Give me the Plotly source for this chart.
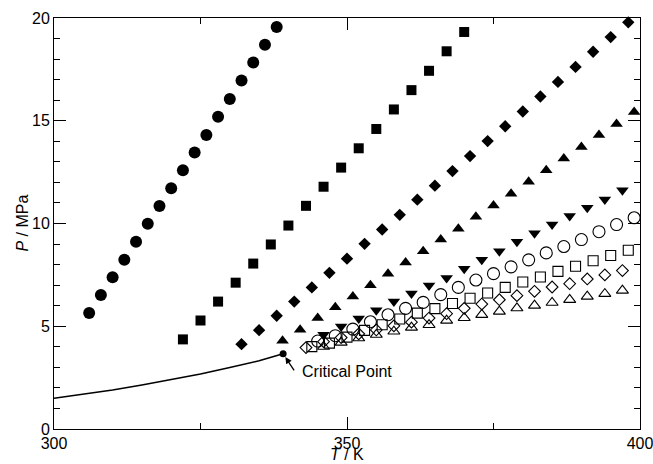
import plotly.graph_objects as go

# ---------------- data ----------------
T_fc = [306, 308, 310, 312, 314, 316, 318, 320, 322, 324, 326, 328, 330, 332, 334, 336, 338]
P_fc = [5.65, 6.52, 7.38, 8.24, 9.11, 9.99, 10.85, 11.71, 12.59, 13.45, 14.31, 15.19, 16.06, 16.96, 17.84, 18.70, 19.56]

T_fs = [322, 325, 328, 331, 334, 337, 340, 343, 346, 349, 352, 355, 358, 361, 364, 367, 370]
P_fs = [4.36, 5.28, 6.20, 7.12, 8.05, 8.98, 9.90, 10.86, 11.79, 12.72, 13.66, 14.60, 15.55, 16.49, 17.43, 18.38, 19.32]

T_fd = [332, 335, 338, 341, 344, 347, 350, 353, 356, 359, 362, 365, 368, 371, 374, 377, 380, 383, 386, 389, 392, 395, 398]
P_fd = [4.13, 4.81, 5.51, 6.20, 6.89, 7.60, 8.29, 9.01, 9.71, 10.42, 11.16, 11.84, 12.55, 13.28, 14.01, 14.73, 15.45, 16.18, 16.89, 17.62, 18.36, 19.07, 19.79]

T_fu = [339, 342, 345, 348, 351, 354, 357, 360, 363, 366, 369, 372, 375, 378, 381, 384, 387, 390, 393, 396, 399]
P_fu = [4.29, 4.83, 5.40, 5.92, 6.45, 6.99, 7.56, 8.10, 8.65, 9.22, 9.74, 10.33, 10.88, 11.45, 12.03, 12.59, 13.16, 13.72, 14.31, 14.84, 15.43]

T_fv = [346, 349, 352, 355, 358, 361, 364, 367, 370, 373, 376, 379, 382, 385, 388, 391, 394, 397]
P_fv = [4.59, 4.99, 5.38, 5.78, 6.20, 6.59, 6.98, 7.35, 7.80, 8.24, 8.65, 9.11, 9.53, 9.95, 10.36, 10.77, 11.17, 11.62]

T_oc = [345, 348, 351, 354, 357, 360, 363, 366, 369, 372, 375, 378, 381, 384, 387, 390, 393, 396, 399]
P_oc = [4.28, 4.54, 4.86, 5.22, 5.56, 5.87, 6.16, 6.54, 6.89, 7.25, 7.56, 7.89, 8.23, 8.57, 8.88, 9.22, 9.60, 9.95, 10.28]

T_os = [344, 347, 350, 353, 356, 359, 362, 365, 368, 371, 374, 377, 380, 383, 386, 389, 392, 395, 398]
P_os = [4.01, 4.18, 4.47, 4.80, 5.07, 5.35, 5.64, 5.86, 6.11, 6.36, 6.62, 6.89, 7.15, 7.40, 7.67, 7.92, 8.19, 8.44, 8.70]

T_od = [343, 346, 349, 352, 355, 358, 361, 364, 367, 370, 373, 376, 379, 382, 385, 388, 391, 394, 397]
P_od = [3.96, 4.25, 4.45, 4.63, 4.82, 5.02, 5.20, 5.40, 5.61, 5.87, 6.08, 6.29, 6.49, 6.70, 6.91, 7.07, 7.30, 7.50, 7.71]

T_ou = [346, 349, 352, 355, 358, 361, 364, 367, 370, 373, 376, 379, 382, 385, 388, 391, 394, 397]
P_ou = [4.01, 4.21, 4.42, 4.59, 4.75, 4.94, 5.07, 5.28, 5.41, 5.56, 5.72, 5.88, 6.01, 6.15, 6.29, 6.45, 6.58, 6.74]

T_curve = [300, 305, 310, 315, 320, 325, 330, 335, 339.1]
P_curve = [1.50, 1.69, 1.90, 2.14, 2.40, 2.68, 2.99, 3.32, 3.66]

T_crit = [339.1]
P_crit = [3.66]

# ---------------- figure ----------------
fig = go.Figure()

fig.add_trace(go.Scatter(x=T_curve, y=P_curve, mode="lines",
                         line=dict(color="black", width=1.5), cliponaxis=False))

series = [
    (T_fc, P_fc, "circle", 12),
    (T_fs, P_fs, "square", 10),
    (T_fd, P_fd, "diamond", 9.5),
    (T_fu, P_fu, "triangle-up", 11),
    (T_fv, P_fv, "triangle-down", 11),
    (T_oc, P_oc, "circle-open", 12),
    (T_os, P_os, "square-open", 10),
    (T_od, P_od, "diamond-open", 9),
    (T_ou, P_ou, "triangle-up-open", 10.5),
]
for tx, py, sym, sz in series:
    fig.add_trace(go.Scatter(
        x=tx, y=py, mode="markers", cliponaxis=False,
        marker=dict(symbol=sym, size=sz, color="black",
                    line=dict(color="black", width=1.1 if "open" in sym else 0)),
    ))

fig.add_trace(go.Scatter(x=T_crit, y=P_crit, mode="markers", cliponaxis=False,
                         marker=dict(symbol="circle", size=7, color="black")))

fig.add_annotation(x=T_crit[0], y=P_crit[0], xref="x", yref="y", text="",
                   showarrow=True, ax=12, ay=18, arrowhead=2, arrowsize=1,
                   arrowwidth=1.3, arrowcolor="black", standoff=4)
fig.add_annotation(x=350.0, y=2.78, xref="x", yref="y", text="Critical Point",
                   showarrow=False, font=dict(size=16, color="black"))

fig.add_annotation(x=0.5, y=0, xref="paper", yref="paper", text="<i>T</i> / K",
                   showarrow=False, yanchor="middle", yshift=-25,
                   font=dict(size=16, color="black"))
fig.add_annotation(x=0, y=0.5, xref="paper", yref="paper", text="<i>P</i> / MPa",
                   showarrow=False, textangle=-90, xanchor="center", xshift=-32,
                   font=dict(size=16, color="black"))

axis_common = dict(showgrid=False, zeroline=False, showline=True, linecolor="black",
                   linewidth=1, mirror="ticks", ticks="inside", ticklen=12,
                   tickwidth=1, tickcolor="black", automargin=False,
                   ticklabeloverflow="allow",
                   tickfont=dict(size=16, color="black"))

fig.update_xaxes(range=[300, 400], tickmode="linear", tick0=300, dtick=50,
                 minor=dict(tickmode="linear", tick0=300, dtick=25, ticks="inside",
                            ticklen=6, tickcolor="black", tickwidth=1, showgrid=False),
                 **axis_common)
fig.update_yaxes(range=[0, 20], tickmode="linear", tick0=0, dtick=5,
                 minor=dict(tickmode="linear", tick0=0, dtick=1, ticks="inside",
                            ticklen=6, tickcolor="black", tickwidth=1, showgrid=False),
                 **axis_common)

fig.update_layout(width=653, height=464,
                  margin=dict(l=54, r=13, t=18, b=35, pad=0),
                  paper_bgcolor="white", plot_bgcolor="white", showlegend=False,
                  font=dict(family="Liberation Sans, Arial, sans-serif", size=16, color="black"))

fig.write_html("out.html")
